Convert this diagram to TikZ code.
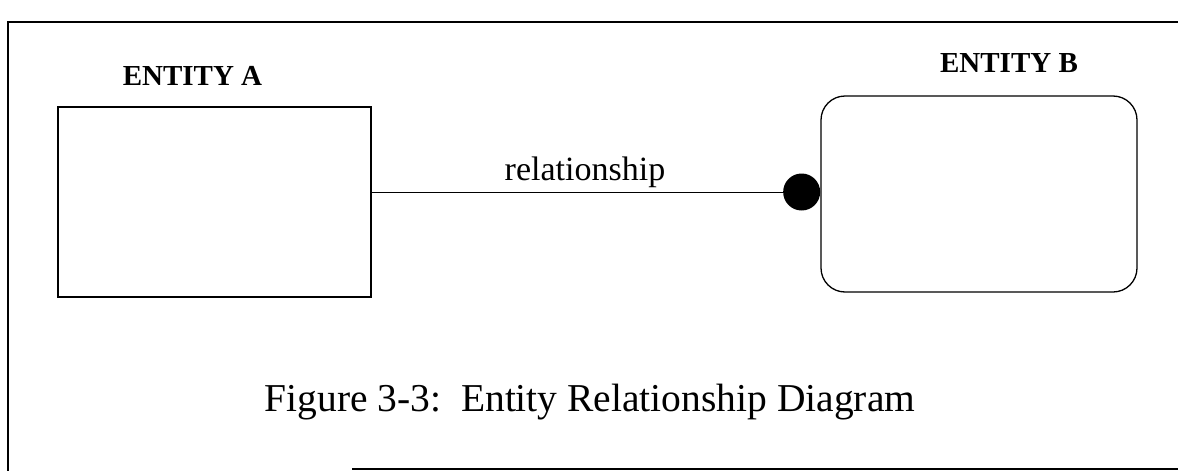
\documentclass[tikz,border=0pt]{standalone}
\usepackage{fontspec}
\setmainfont{Liberation Serif}
\begin{document}
\begin{tikzpicture}[x=1pt,y=-1pt,
  frameline/.style={line width=2.8pt},
  entbox/.style={draw,line width=1.3pt,minimum width=313pt,minimum height=190pt,inner sep=0pt},
  entroundbox/.style={draw,line width=1.3pt,rounded corners=24pt,minimum width=316pt,minimum height=196pt,inner sep=0pt},
  enttitle/.style={font=\fontsize{29}{34}\selectfont\bfseries,inner sep=0pt},
  rellabel/.style={font=\fontsize{34}{40}\selectfont,inner sep=0pt},
  captiontext/.style={font=\fontsize{39.5}{46}\selectfont,inner sep=0pt},
  linkdot/.style={circle,fill=black,minimum size=37pt,inner sep=0pt},
  link/.style={line width=1pt}]
\useasboundingbox (0,0) rectangle (1178,471);
% outer frame (open on the right and lower left)
\coordinate (ftr) at (1178,22);
\coordinate (ftl) at (8,22);
\coordinate (fbl) at (8,471);
\coordinate (bstart) at (352,469);
\coordinate (bend) at (1178,469);
\draw[frameline] (ftr) -- (ftl) -- (fbl);
\draw[frameline] (bstart) -- (bend);
% entities
\node[entbox] (a) at (214.5,202) {};
\node[entroundbox] (b) at (979,194) {};
\node[enttitle,anchor=base] (ta) at (192.5,85) {ENTITY A};
\node[enttitle,anchor=base] (tb) at (1009,72) {ENTITY B};
% relationship connector with the dot on entity B
\node[linkdot,anchor=east] (dot) at (b.west |- 0,192) {};
\draw[link] (a.east |- dot) -- (dot.west);
\node[rellabel,anchor=base] (rel) at (585,180) {relationship};
% caption
\node[captiontext,anchor=base] (cap) at (590,411) {Figure 3-3:\ \ Entity Relationship Diagram};
\end{tikzpicture}
\end{document}
